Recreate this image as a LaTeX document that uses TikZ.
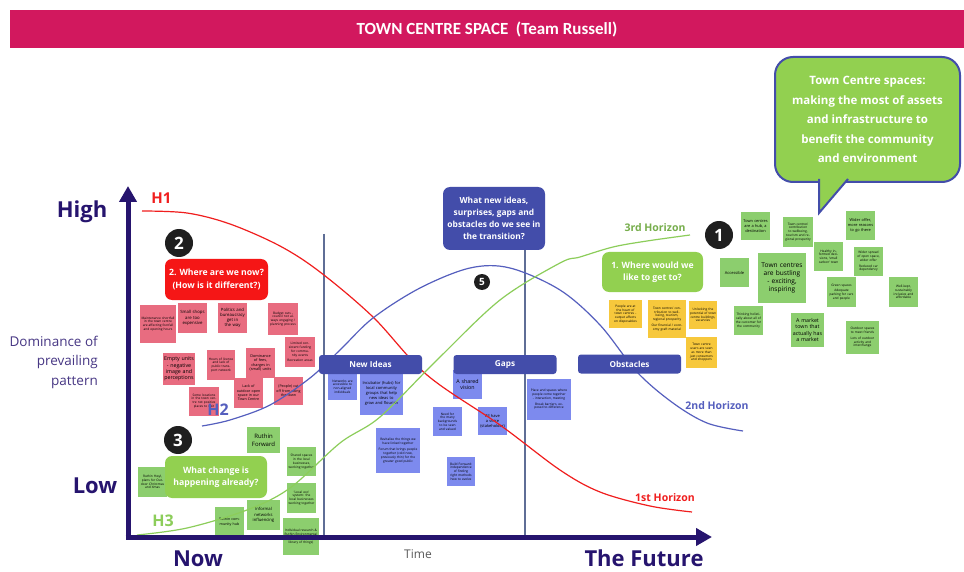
\documentclass[tikz,border=0pt]{standalone}
\usepackage{fontspec}
\setmainfont{Open Sans}
\newfontfamily\titlefont{Carlito}
\usetikzlibrary{arrows.meta, positioning}
\definecolor{colorTitle}{RGB}{210,24,94}
\definecolor{colorAxis}{RGB}{38,20,110}
\definecolor{colorBox}{RGB}{67,77,170}
\definecolor{colorHOne}{RGB}{240,30,30}
\definecolor{colorHTwo}{RGB}{85,95,190}
\definecolor{colorHThree}{RGB}{140,205,90}
\definecolor{colorDivider}{RGB}{95,110,150}
\definecolor{colorNoteRed}{RGB}{232,108,128}
\definecolor{colorNoteBlue}{RGB}{125,138,238}
\definecolor{colorNoteYellow}{RGB}{247,200,60}
\definecolor{colorNoteGreen}{RGB}{140,206,110}
\definecolor{colorCallGreen}{RGB}{146,208,80}
\definecolor{colorAsk}{RGB}{245,22,22}
\newcommand{\notetiny}{\fontsize{3.2}{3.8}\selectfont}
\newcommand{\notesmall}{\fontsize{4.3}{5.2}\selectfont}
\newcommand{\notemid}{\fontsize{5.3}{6.4}\selectfont}
\newcommand{\notebig}{\fontsize{6.6}{8}\selectfont}
\tikzset{
  note/.style={align=center, inner sep=0.5pt, minimum width=29pt, minimum height=29pt, text width=26pt, font=\notetiny},
  rednote/.style={note, fill=colorNoteRed},
  bluenote/.style={note, fill=colorNoteBlue},
  yellownote/.style={note, fill=colorNoteYellow},
  greennote/.style={note, fill=colorNoteGreen},
  callout/.style={rounded corners=7pt, align=center, text=white, font=\bfseries\fontsize{8.7}{12.5}\selectfont, minimum width=102pt, minimum height=41pt, inner sep=2pt},
  askred/.style={callout, fill=colorAsk},
  askgreen/.style={callout, fill=colorCallGreen},
  stagebar/.style={fill=colorBox, rounded corners=3pt, text=white, font=\bfseries\fontsize{8.2}{9}\selectfont, minimum width=103pt, minimum height=19pt, inner sep=0pt},
  badge/.style={circle, fill=black!88, text=white, font=\bfseries\fontsize{17}{17}\selectfont, minimum size=28pt, inner sep=0pt},
  axislabel/.style={text=colorAxis, font=\bfseries\fontsize{22}{24}\selectfont, inner sep=0pt},
  horizon/.style={font=\bfseries\fontsize{10.5}{12}\selectfont, inner sep=0pt},
  divider/.style={colorDivider, line width=1.8pt}
}

\begin{document}
\begin{tikzpicture}[x=1pt, y=-1pt, >={Triangle[length=16pt, width=17pt]}]
\useasboundingbox[fill=white] (0,0) rectangle (964,572);
% title
\node[fill=colorTitle, text=white, minimum width=954pt, minimum height=38pt, font=\titlefont\bfseries\fontsize{17}{19}\selectfont] (title) at (487,29) {TOWN CENTRE SPACE\ \ (Team Russell)};

% goal bubble
\node[fill=colorCallGreen, draw=colorBox, line width=2pt, rounded corners=18pt, minimum width=185pt, minimum height=125pt, text=white, align=center, font=\bfseries\fontsize{11.5}{19.5}\selectfont] (goal) at (867.5,119.5) {Town Centre spaces:\\making the most of assets\\and infrastructure to\\benefit the community\\and environment};
\coordinate (tip) at (819,213);
\filldraw[fill=colorCallGreen, draw=colorBox, line width=2pt] (819,179) -- (tip) -- (848,179);

% dividers
\coordinate (d1top) at (324,234);
\coordinate (d1bot) at (324,537);
\coordinate (d2top) at (525,250);
\coordinate (d2bot) at (525,537);
\draw[divider] (d1top) -- (d1bot);
\draw[divider] (d2top) -- (d2bot);

% where are we now
\node[rednote, minimum width=36pt, minimum height=38pt, text width=33pt] (r1) at (158,324) {Maintenance shortfall in the town centre are affecting footfall and opening hours};
\node[rednote, minimum height=30pt, font=\notesmall] (r2) at (192.5,318) {Small shops are too expensive};
\node[rednote, minimum height=30pt, font=\notesmall] (r3) at (232.5,318) {Politics and bureaucracy get in the way};
\node[rednote, minimum width=30pt, minimum height=32pt] (r4) at (283,319) {Budget cuts - council not always engaging / planning process};
\node[rednote, minimum width=32pt, minimum height=32pt, text width=30pt, font=\notemid] (r5) at (179,369) {Empty units - negative image and perceptions};
\node[rednote, minimum width=28pt, minimum height=30pt] (r6) at (221,365) {Hours of licence and lack of public transport network};
\node[rednote, minimum height=30pt, font=\fontsize{3.8}{4.6}\selectfont] (r7) at (260.5,363) {Dominance of fees, charges in (small) units};
\node[rednote, minimum width=30pt, minimum height=30pt] (r8) at (300,352) {Limited consistent funding for community events\\[2pt] Recreation areas};
\node[rednote, minimum width=30pt] (r9) at (204,401) {Some locations in the town centre not positive places to visit};
\node[rednote, minimum height=30pt, font=\fontsize{3.6}{4.4}\selectfont] (r10) at (248.5,393) {Lack of outdoor open space in our Town Centre};
\node[rednote, minimum height=28pt, font=\fontsize{3.6}{4.4}\selectfont] (r11) at (288.5,391) {(People) cut off from using the town};

% new ideas, gaps, obstacles
\node[bluenote, minimum height=27pt] (b1) at (342.5,386.5) {Networks are accessible to non-aligned individuals};
\node[bluenote, minimum width=43pt, minimum height=43pt, text width=39pt, font=\fontsize{4}{5}\selectfont] (b2) at (381.5,393.5) {Incubator (hubs) for local community groups that help new ideas to grow and flourish};
\node[bluenote, minimum width=44pt, minimum height=45pt, text width=40pt] (b3) at (398,450.5) {Revitalise the things we have linked together\\[3pt] Forum that brings people together (cold now, previously thin) for the greater good public};
\node[bluenote] (b4) at (447.5,421.5) {Need for the many backgrounds to be seen and valued};
\node[bluenote, font=\notemid] (b5) at (467.5,384.5) {A shared vision};
\node[bluenote, minimum height=28pt, font=\fontsize{4}{5}\selectfont] (b6) at (492.5,421) {All have a voice (stakeholder)};
\node[bluenote, minimum width=28pt] (b7) at (461,471.5) {Build Forward: independence of finding right methods how to evolve};
\node[bluenote, minimum width=44pt, minimum height=41pt, text width=40pt] (b8) at (549,399.5) {Place and spaces where people come together - interaction, meeting\\[2pt] Break barriers, exposed to difference};

% where would we like to get to
\node[yellownote, minimum width=33pt, minimum height=28pt, text width=30pt] (y1) at (625.5,314) {People are at the heart of town centres - output affects on disposables};
\node[yellownote, minimum width=38pt, minimum height=38pt, text width=35pt] (y2) at (667,319) {Town centres' contribution to wellbeing, tourism, regional prosperity\\[2pt] Our financial / economy graft material};
\node[yellownote, minimum width=28pt, minimum height=28pt] (y3) at (703,315) {Unlocking the potential of town centre buildings, vacancies};
\node[yellownote, minimum width=31pt, minimum height=31pt] (y4) at (701.5,352.5) {Town centre users are seen as more than just consumers and shoppers};
\node[greennote, minimum height=28pt, font=\fontsize{3.9}{4.8}\selectfont] (g1) at (755.5,226) {Town centres are a hub, a destination};
\node[greennote, minimum width=30pt, minimum height=30pt] (g2) at (798,232) {Town centres' contribution to wellbeing, tourism and regional prosperity};
\node[greennote, font=\fontsize{3.9}{4.8}\selectfont] (g3) at (860.5,225.5) {Wider offer, more reasons to go there};
\node[greennote] (g4) at (828.5,256.5) {Healthy informed decisions, 'small carbon' town};
\node[greennote] (g5) at (868.5,261.5) {Wider spread of open space, wider offer\\[2pt] Reduced car dependency};
\node[greennote, font=\fontsize{4}{5}\selectfont] (g6) at (734.5,272.5) {Accessible};
\node[greennote, minimum width=48pt, minimum height=50pt, text width=45pt, font=\notebig] (g7) at (782,278) {Town centres are bustling - exciting, inspiring};
\node[greennote, minimum height=30pt] (g8) at (841.5,292) {Green spaces\\[2pt] Adequate parking for cars and people};
\node[greennote, minimum height=30pt] (g9) at (903.5,292) {Well-kept, sustainably inclusive and affordable};
\node[greennote] (g10) at (748.5,320.5) {Thinking holistically about all of the customer for the community};
\node[greennote, minimum width=33pt, minimum height=34pt, text width=30pt, font=\notemid] (g11) at (807.5,330) {A market town that actually has a market};
\node[greennote, minimum width=33pt, minimum height=33pt, text width=30pt] (g12) at (862.5,337.5) {Outdoor spaces to meet friends\\[2pt] Lots of outdoor activity and interchange};

% what change is happening already
\node[greennote, minimum width=33pt, minimum height=26pt, text width=30pt, font=\fontsize{6}{7.5}\selectfont] (k1) at (263.5,440) {Ruthin Forward};
\node[greennote, minimum height=30pt] (k2) at (152.5,482) {Ruthin Hwyl, plans for Outdoor Christmas and Xmas};
\node[greennote] (k3) at (301.5,461.5) {Shared spaces in the local businesses, working together};
\node[greennote, minimum height=30pt] (k4) at (301.5,498) {'Local eco' system: the local businesses working together};
\node[greennote, minimum height=30pt, font=\fontsize{3.6}{4.4}\selectfont] (k5) at (229.5,522) {Ruthin community hub};
\node[greennote, minimum width=33pt, minimum height=30pt, text width=30pt, font=\fontsize{4.2}{5.2}\selectfont] (k6) at (263.5,515) {Informal networks influencing};
\node[greennote, minimum width=36pt, minimum height=37pt, text width=33pt] (k7) at (301,536.5) {Individual research \& Ruthin Environmental Group (running a library of things)};

% horizons
\draw[colorHOne, line width=1.2pt] plot[smooth, tension=0.55] coordinates {(142,211) (187,213) (230,224) (280,246) (320,272) (373,317) (427,375) (500,425) (560,470) (600,492) (650,506) (692,512)};
\draw[colorHTwo, line width=1.2pt] plot[smooth, tension=0.55] coordinates {(202,426) (230,420) (270,405) (310,378) (340,350) (373,318) (420,288) (470,268) (510,268) (560,290) (600,325) (637,372) (673,403) (707,423) (743,431)};
\draw[colorHThree, line width=1.2pt] plot[smooth, tension=0.55] coordinates {(137,535) (187,528) (247,510) (290,488) (340,443) (380,417) (437,360) (500,300) (560,263) (580,257) (613,247) (647,241) (690,235)};

% axes
\coordinate (origin) at (128,537);
\coordinate (ytop) at (128,186);
\coordinate (xend) at (712,537);
\draw[colorAxis, line width=5pt, ->] (origin) -- (ytop);
\draw[colorAxis, line width=5pt, ->] ([xshift=-2.5pt]origin) -- (xend);

% stages
\node[stagebar] (ideas) at (370.5,364.5) {New Ideas};
\node[stagebar] (gaps) at (505,364.5) {Gaps};
\node[stagebar] (obstacles) at (629.5,364) {Obstacles};
\node[callout, fill=colorBox, minimum height=63pt, font=\bfseries\fontsize{8.4}{12}\selectfont] (question) at (494,218.5) {What new ideas,\\surprises, gaps and\\obstacles do we see in\\the transition?};

% questions
\node[askred, minimum width=103pt] (ask) at (216.5,279.5) {2. Where are we now?\\(How is it different?)};
\node[askgreen, minimum width=101pt, minimum height=40pt] (wish) at (652.5,272) {1. Where would we\\like to get to?};
\node[askgreen, minimum height=42pt] (change) at (216,477) {What change is\\happening already?};
\node[badge] (one) at (719,235) {1};
\node[badge] (two) at (179,243) {2};
\node[badge] (three) at (178,440) {3};
\node[badge, minimum size=16pt, font=\bfseries\fontsize{10}{10}\selectfont] (five) at (482,282) {5};

% labels
\node[axislabel] (high) at (82,212) {High};
\node[axislabel] (low) at (95,486) {Low};
\node[text=colorAxis!85!white, align=right, anchor=east, font=\fontsize{13.5}{19.5}\selectfont, inner sep=0pt] (dominance) at (98,362) {Dominance of\\prevailing\\pattern};
\node[axislabel] (now) at (198,559) {Now};
\node[text=black!65, font=\fontsize{12}{14}\selectfont, inner sep=0pt] (time) at (418,554) {Time};
\node[axislabel] (future) at (644,558) {The Future};
\node[text=colorHOne, font=\bfseries\fontsize{15}{16}\selectfont, inner sep=0pt] (hone) at (161.5,198.5) {H1};
\node[text=colorHTwo, font=\bfseries\fontsize{16}{17}\selectfont, inner sep=0pt] (htwo) at (218,410) {H2};
\node[text=colorHThree, font=\bfseries\fontsize{16}{17}\selectfont, inner sep=0pt] (hthree) at (163,521) {H3};
\node[horizon, text=colorHThree!85!black] (third) at (655,227.5) {3rd Horizon};
\node[horizon, text=colorHTwo] (second) at (717,406) {2nd Horizon};
\node[horizon, text=colorHOne] (first) at (665,498) {1st Horizon};
\end{tikzpicture}
\end{document}
